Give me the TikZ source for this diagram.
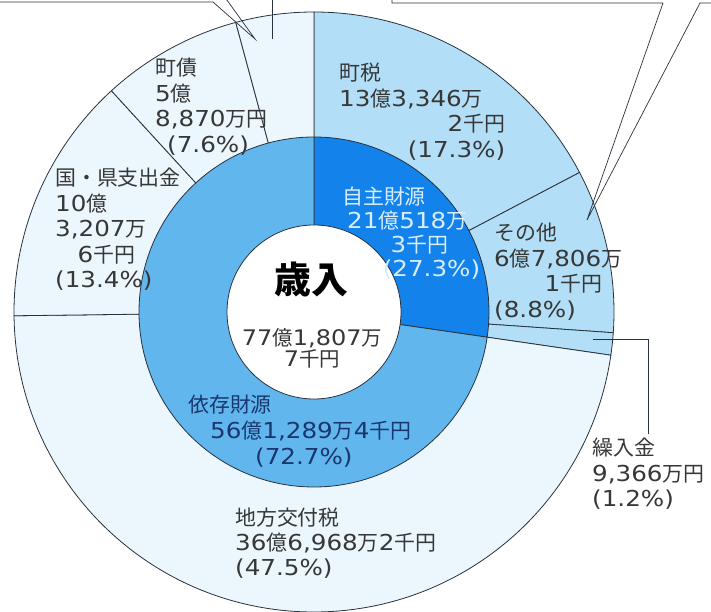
\documentclass[tikz,border=0pt]{standalone}
\usepackage{fontspec}
\setmainfont{Noto Sans CJK JP}
\newfontfamily\numfont[Scale=1.05,FakeStretch=1.12]{DejaVu Sans}
\newcommand\nm[1]{{\numfont#1}}
\definecolor{ownout}{RGB}{178,223,247}
\definecolor{depout}{RGB}{235,247,253}
\definecolor{ownin}{RGB}{20,130,235}
\definecolor{depin}{RGB}{98,182,238}
\definecolor{ink}{RGB}{55,55,55}
\definecolor{rim}{RGB}{40,50,62}
\definecolor{owntxt}{RGB}{215,238,255}
\definecolor{deptxt}{RGB}{25,55,110}

\begin{document}
\begin{tikzpicture}[x = 1bp, y = 1bp,
    wedge/.style = {draw = rim, line width = 0.8bp},
    lbl/.style = {font = \fontsize{21}{25.5}\selectfont, text = ink, inner sep = 0pt, anchor = base west, align = left},
    leader/.style = {draw = rim, line width = 0.7bp},
    ]
    \useasboundingbox (-314,-300) rectangle (397,312);
    \foreach \a/\b/\c in {27.72/90/ownout, -3.96/27.72/ownout, -8.28/-3.96/ownout, -179.28/-8.28/depout, -227.52/-179.28/depout, -254.88/-227.52/depout, -270/-254.88/depout}
        \filldraw[wedge, fill = \c] (0,0) -- (\a:300) arc[start angle = \a, end angle = \b, radius = 300] -- cycle;
    \filldraw[wedge, fill = ownin] (0,0) -- (-8.28:175) arc[start angle = -8.28, end angle = 90, radius = 175] -- cycle;
    \filldraw[wedge, fill = depin] (0,0) -- (90:175) arc[start angle = 90, end angle = 351.72, radius = 175] -- cycle;
    \filldraw[wedge, fill = white] (0,0) circle[radius = 87];

    \node[lbl, text width = 166bp] (zei) at (25,231) {町税\\\nm{13}億\nm{3,346}万\\\hspace*{\fill}\nm{2}千円\\\hspace*{\fill}\nm{(17.3\%)}};
    \node[lbl, text width = 108bp] (sonota) at (180,71) {その他\\\nm{6}億\nm{7,806}万\\\hspace*{\fill}\nm{1}千円\\\nm{(8.8\%)}};
    \node[lbl, text width = 120bp] (kuri) at (278,-144) {繰入金\\\nm{9,366}万円\\\nm{(1.2\%)}};
    \node[lbl, text width = 220bp] (chiho) at (-79,-213) {地方交付税\\\nm{36}億\nm{6,968}万\nm{2}千円\\\nm{(47.5\%)}};
    \node[lbl, text width = 80bp] (kuni) at (-259,126) {国・県支出金\\\nm{10}億\\\nm{3,207}万\\\hspace*{\fill}\nm{6}千円\\\hspace*{\fill}\nm{(13.4\%)}};
    \node[lbl, text width = 110bp] (chosai) at (-159,236) {町債\\\nm{5}億\\\nm{8,870}万円\\\hspace*{12bp}\nm{(7.6\%)}};
    \node[lbl, text width = 106bp, text = owntxt, font = \fontsize{21}{24}\selectfont] (jishu) at (28,107) {自主財源\\\hspace*{5bp}\nm{21}億\nm{518}万\\\hspace*{\fill}\nm{3}千円\\\hspace*{\fill}\nm{(27.3\%)}\hspace*{-32bp}};
    \node[lbl, text width = 240bp, text = deptxt, font = \fontsize{21}{26}\selectfont] (izon) at (-126,-101) {依存財源\\\hspace*{22bp}\nm{56}億\nm{1,289}万\nm{4}千円\\\hspace*{67bp}\nm{(72.7\%)}};

    \node[font = \fontsize{37}{40}\selectfont\bfseries, inner sep = 0pt] (sainyu) at (-3,33) {歳入};
    \node[font = \fontsize{20.5}{21}\selectfont, text = ink, align = center, inner sep = 0pt] (total) at (-2,-36) {\nm{77}億\nm{1,807}万\\\nm{7}千円};

    \coordinate (kuriPt) at (279,-27);
    \draw[leader] (kuriPt) -| ([xshift = 56bp, yshift = 4bp]kuri.north west);
    \coordinate (tipA) at (-59,273);
    \draw[leader] (-314,310) -- (-101,310) -- (tipA) -- (-90,316);
    \coordinate (tipC) at (-42,273);
    \draw[leader] (-42,316) -- (tipC);
    \coordinate (tipB) at (273,92);
    \draw[leader] (78,316) -- (78,309) -- (349,309) -- (tipB) -- (386,309) -- (398,309);
\end{tikzpicture}
\end{document}
